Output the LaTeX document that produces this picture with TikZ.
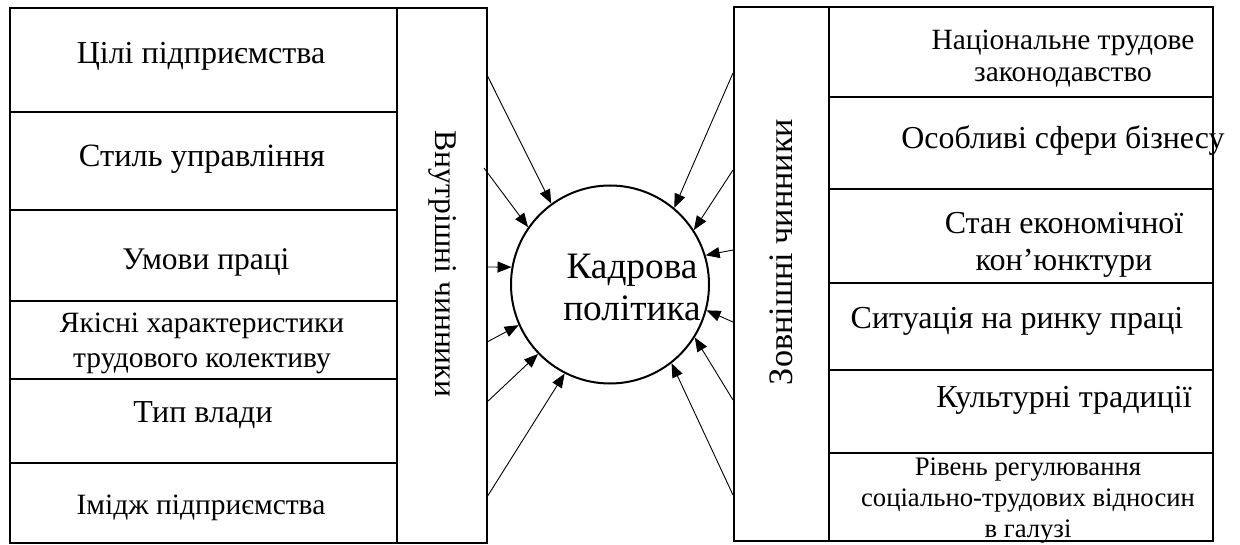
\documentclass[tikz,border=0pt]{standalone}
\usepackage{fontspec}
\setmainfont{Liberation Serif}
\usetikzlibrary{arrows.meta}
\begin{document}
\begin{tikzpicture}[x=1pt,y=-1pt,
  frame/.style={line width=2.2pt},
  sepline/.style={line width=1.1pt},
  item/.style={align=center, inner sep=0pt},
  arr/.style={line width=0.9pt, -{Triangle[length=14pt,width=11pt]}},
]
\useasboundingbox (0,0) rectangle (1240,545);
% left box
\draw[frame] (10,8) rectangle (487,543);
\draw[sepline] (397,8) -- (397,543);
\foreach \y in {112,210,301,379,463} \draw[sepline] (10,\y) -- (397,\y);
% right box
\draw[frame] (734,7) rectangle (1213,541);
\draw[sepline] (829,7) -- (829,541);
\foreach \y in {97,189,283,370,453} \draw[sepline] (829,\y) -- (1213,\y);

% left texts
\node[item,font=\fontsize{32}{35}\selectfont] (l1) at (201,56) {Цілі підприємства};
\node[item,font=\fontsize{32.5}{35}\selectfont] (l2) at (202,159.5) {Стиль управління};
\node[item,font=\fontsize{31.5}{35}\selectfont] (l3) at (206,262.5) {Умови праці};
\node[item,font=\fontsize{29.5}{35}\selectfont] (l4) at (202,343) {Якісні характеристики\\трудового колективу};
\node[item,font=\fontsize{32}{35}\selectfont] (l5) at (203,415) {Тип влади};
\node[item,font=\fontsize{29.5}{35}\selectfont] (l6) at (201,508) {Імідж підприємства};
\node[item,rotate=-90,font=\fontsize{31.6}{35}\selectfont] (lt) at (443,264) {Внутрішні чинники};

% right texts
\node[item,font=\fontsize{29.4}{32}\selectfont] (r1) at (1063,59) {Національне трудове\\законодавство};
\node[item,font=\fontsize{31.9}{35}\selectfont] (r2) at (1063,140.5) {Особливі сфери бізнесу};
\node[item,font=\fontsize{32}{37}\selectfont] (r3) at (1064,245) {Стан економічної\\кон’юнктури};
\node[item,font=\fontsize{32}{35}\selectfont] (r4) at (1017,321.5) {Ситуація на ринку праці};
\node[item,font=\fontsize{32}{35}\selectfont] (r5) at (1064,400) {Культурні традиції};
\node[item,font=\fontsize{26.7}{31}\selectfont] (r6) at (1028,501) {Рівень регулювання\\соціально-трудових відносин\\в галузі};
\node[item,rotate=90,font=\fontsize{34.2}{35}\selectfont] (rt) at (781,252) {Зовнішні чинники};

% centre
\node[circle,draw,line width=2pt,minimum size=198pt,inner sep=0pt] (c) at (610,284.5) {};
\node[item,font=\fontsize{37.3}{42}\selectfont] (ct) at (632,287) {Кадрова\\політика};

% arrow start points
\coordinate (a1) at (487,75);
\coordinate (a2) at (484,168);
\coordinate (a3) at (487,267);
\coordinate (a4) at (487,342);
\coordinate (a5) at (487,402);
\coordinate (a6) at (487,497);
\coordinate (b1) at (733,73);
\coordinate (b2) at (733,170);
\coordinate (b3) at (733,250);
\coordinate (b4) at (733,322);
\coordinate (b5) at (733,400);
\coordinate (b6) at (733,495);

\draw[arr] (a1) -- (c.126.6);
\draw[arr] (a2) -- (c.145.8);
\draw[arr] (a3) -- (c.170);
\draw[arr] (a4) -- (c.204.6);
\draw[arr] (a5) -- (c.224.4);
\draw[arr] (a6) -- (c.243);
\draw[arr] (b1) -- (c.50.5);
\draw[arr] (b2) -- (c.33);
\draw[arr] (b3) -- (c.17.8);
\draw[arr] (b4) -- (c.-15);
\draw[arr] (b5) -- (c.-32);
\draw[arr] (b6) -- (c.-52.6);
\end{tikzpicture}
\end{document}
